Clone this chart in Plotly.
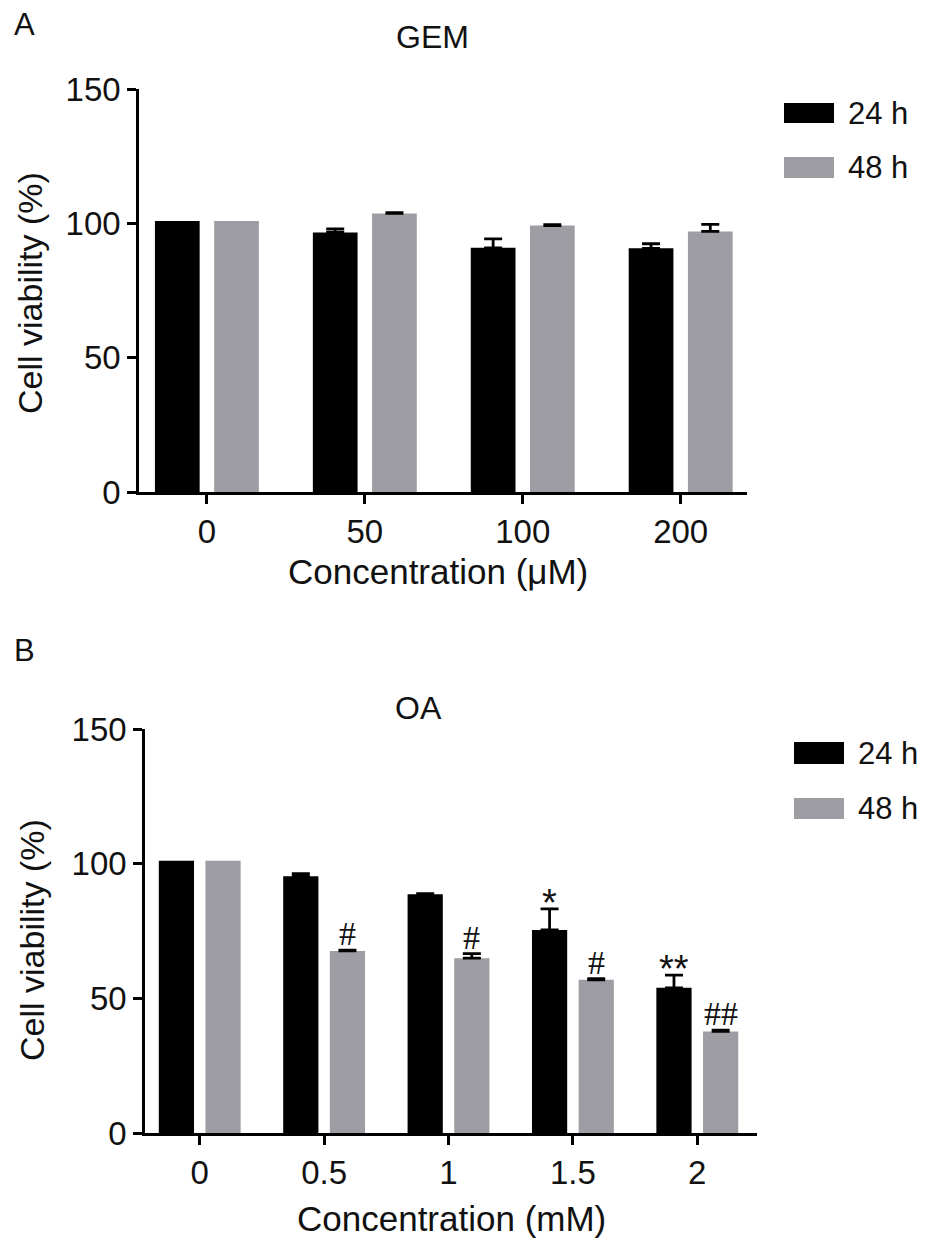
import plotly.graph_objects as go

# panel A: GEM
gem_conc = ["0", "50", "100", "200"]
gem_24 = [100.9, 96.6, 90.9, 90.7]
gem_24_err = [None, 1.3, 3.3, 1.7]
gem_48 = [100.9, 103.7, 99.2, 97.0]
gem_48_err = [None, 0.3, 0.3, 2.6]

# panel B: OA
oa_conc = ["0", "0.5", "1", "1.5", "2"]
oa_24 = [101.1, 95.3, 88.6, 75.4, 53.9]
oa_24_err = [None, 1.0, 0.3, 7.8, 4.7]
oa_48 = [101.1, 67.6, 64.9, 56.9, 37.7]
oa_48_err = [None, 0.3, 1.7, 0.4, 0.5]
oa_24_sig = ["", "", "", "*", "**"]
oa_48_sig = ["", "#", "#", "#", "##"]

series_names = ["24 h", "48 h"]
y_ticks = [0, 50, 100, 150]

BLACK = "#000000"
GREY = "#9d9da3"
W, H = 932, 1254
OFF = 8  # page body margin shifts the figure by this much
SANS = "Liberation Sans, Arial, sans-serif"
SERIF = "Liberation Serif, Times New Roman, serif"


def px(x):
    return (x - OFF) / W


def py(y):
    return 1 - (y - OFF) / H


def err_arr(err):
    # control bars carry no error bar at all
    return [("NaN" if e is None else e) for e in err]


def bar(x, y, err, color, xa, ya):
    return go.Bar(
        x=x, y=y, marker=dict(color=color, line=dict(width=0)),
        error_y=dict(type="data", symmetric=False, array=err_arr(err),
                     arrayminus=[("NaN" if e is None else 0) for e in err],
                     color=BLACK, thickness=2.8, width=9),
        xaxis=xa, yaxis=ya, showlegend=False,
    )


fig = go.Figure()
fig.add_trace(bar(gem_conc, gem_24, gem_24_err, BLACK, "x", "y"))
fig.add_trace(bar(gem_conc, gem_48, gem_48_err, GREY, "x", "y"))
fig.add_trace(bar(oa_conc, oa_24, oa_24_err, BLACK, "x2", "y2"))
fig.add_trace(bar(oa_conc, oa_48, oa_48_err, GREY, "x2", "y2"))

axis_common = dict(
    showline=True, linecolor=BLACK, linewidth=2.5, ticks="outside",
    ticklen=9, tickwidth=2.5, tickcolor=BLACK, showgrid=False, zeroline=False,
    tickfont=dict(family=SANS, size=33, color="#111"), automargin=False,
)

fig.update_layout(
    width=W, height=H, autosize=False,
    margin=dict(l=0, r=0, t=0, b=0, pad=0, autoexpand=False),
    plot_bgcolor="white", paper_bgcolor="white", showlegend=False,
    barmode="group", bargap=0.25, bargroupgap=0.245,
    xaxis=dict(domain=[px(139), px(747)], type="category", range=[-0.43, 3.42],
               anchor="y", **axis_common),
    yaxis=dict(domain=[py(492), py(89)], range=[0, 150], tickvals=y_ticks,
               anchor="x", **axis_common),
    xaxis2=dict(domain=[px(145), px(757)], type="category", range=[-0.44, 4.48],
                anchor="y2", **axis_common),
    yaxis2=dict(domain=[py(1133), py(729)], range=[0, 150], tickvals=y_ticks,
                anchor="x2", **axis_common),
)

title_font = dict(family=SANS, size=35, color="#111")
ann = []
# panel letters, titles, axis titles
ann.append(dict(text="A", x=px(12), y=py(24), xanchor="left", font=dict(family=SANS, size=31, color="#111")))
ann.append(dict(text="B", x=px(12), y=py(650), xanchor="left", font=dict(family=SANS, size=31, color="#111")))
ann.append(dict(text="GEM", x=px(432), y=py(37), font=dict(family=SANS, size=32, color="#111")))
ann.append(dict(text="OA", x=px(418), y=py(708), font=dict(family=SANS, size=32, color="#111")))
ann.append(dict(text="Cell viability (%)", x=px(30), y=py(293), textangle=-90, font=dict(family=SANS, size=34, color="#111")))
ann.append(dict(text="Cell viability (%)", x=px(32), y=py(940), textangle=-90, font=dict(family=SANS, size=34, color="#111")))
ann.append(dict(text="Concentration (μM)", x=px(438), y=py(571), font=title_font))
ann.append(dict(text="Concentration (mM)", x=px(451), y=py(1218), font=title_font))
for a in ann:
    a.update(xref="paper", yref="paper", showarrow=False)
    a.setdefault("yanchor", "middle")
    a.setdefault("xanchor", "center")

# significance marks above OA bars (x given as category index)
for sigs, vals, errs, shift in [(oa_24_sig, oa_24, oa_24_err, -23.3),
                                (oa_48_sig, oa_48, oa_48_err, 23.3)]:
    for i, (s, v, e) in enumerate(zip(sigs, vals, errs)):
        if not s:
            continue
        star = s.startswith("*")
        ann.append(dict(text=s, x=i, y=v + (e or 0), xref="x2", yref="y2",
                        xshift=shift, yshift=-17 if star else -4, yanchor="bottom",
                        showarrow=False,
                        font=dict(family=SANS if star else SERIF,
                                  size=38 if star else 34, color="#111")))

# legends drawn as boxes + labels
shapes = []
for (bx, y24, y48) in [(784, (103, 123), (157, 178)), (794, (742, 764), (798, 819))]:
    for name, (y0, y1), col in zip(series_names, [y24, y48], [BLACK, GREY]):
        shapes.append(dict(type="rect", xref="paper", yref="paper",
                           x0=px(bx), x1=px(bx + 50), y0=py(y1), y1=py(y0),
                           fillcolor=col, line=dict(width=0)))
        ann.append(dict(text=name, x=px(bx + 62), y=py((y0 + y1) / 2), xref="paper",
                        yref="paper", xanchor="left", yanchor="middle", showarrow=False,
                        font=dict(family=SANS, size=31, color="#111")))

fig.update_layout(annotations=ann, shapes=shapes)
fig.write_html("out.html")
